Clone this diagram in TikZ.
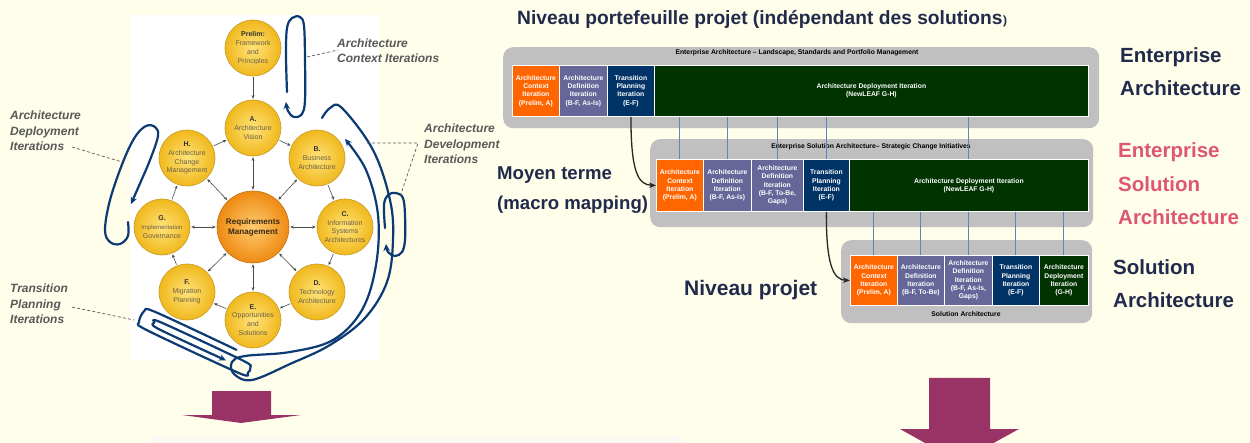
\documentclass[tikz,border=0pt]{standalone}
\usepackage{fontspec}
\setmainfont{Liberation Sans}
\usetikzlibrary{arrows.meta}
\definecolor{bg}{HTML}{FEFEEA}
\definecolor{strip}{HTML}{FBFBF4}
\definecolor{navyT}{HTML}{222A4C}
\definecolor{pinkT}{HTML}{DD5775}
\definecolor{panelgray}{HTML}{C0C0C0}
\definecolor{cOrange}{HTML}{FF6600}
\definecolor{cPurple}{HTML}{666699}
\definecolor{cNavy}{HTML}{003366}
\definecolor{cGreen}{HTML}{003300}
\definecolor{linkblue}{HTML}{5B84C4}
\definecolor{loopblue}{HTML}{0B3A75}
\definecolor{mag}{HTML}{993366}
\definecolor{lbl}{HTML}{595959}
\definecolor{circin}{HTML}{FFE37A}
\definecolor{circout}{HTML}{F0B81C}
\definecolor{circedge}{HTML}{C49A2A}
\definecolor{reqin}{HTML}{FFCB70}
\definecolor{reqout}{HTML}{EE8A12}
\definecolor{reqedge}{HTML}{BF7418}
\definecolor{circtext}{HTML}{6A6045}
\definecolor{circdark}{HTML}{333333}
\definecolor{reqtext}{HTML}{3A2A12}
\definecolor{arrowgray}{HTML}{4A4A4A}
\begin{document}
\begin{tikzpicture}[x=1pt,y=-1pt,
 circ/.style={circle, minimum size=56pt, inner sep=0pt, draw=circedge, line width=0.6pt,
   inner color=circin, outer color=circout, align=center,
   font=\fontsize{7}{8.8}\selectfont, text=circtext},
 reqc/.style={circ, minimum size=72pt, inner color=reqin, outer color=reqout, draw=reqedge,
   font=\bfseries\fontsize{8.1}{10}\selectfont, text=reqtext},
 cyc/.style={draw=arrowgray, line width=0.6pt, -{Stealth[length=3.5pt,width=3pt]}, shorten >=1pt, shorten <=1pt},
 bi/.style={draw=arrowgray, line width=0.6pt, {Stealth[length=3.5pt,width=3pt]}-{Stealth[length=3.5pt,width=3pt]}, shorten >=1pt, shorten <=1pt},
 loopline/.style={draw=loopblue, line width=2.2pt, line cap=round, line join=round, -{Stealth[length=7pt,width=6.5pt]}},
 leader/.style={draw=lbl, line width=0.7pt, dash pattern=on 3pt off 2.2pt},
 itlbl/.style={text=lbl, font=\bfseries\itshape\fontsize{12}{15.3}\selectfont, align=left, inner sep=0pt, anchor=west},
 panelbox/.style={fill=panelgray, rounded corners=10pt, inner sep=0pt, anchor=north west},
 pbox/.style={draw=white, line width=0.8pt, text=white, inner sep=0pt, anchor=north west, align=center,
   font=\bfseries\fontsize{6.8}{8.3}\selectfont},
 ptitle/.style={font=\bfseries\fontsize{6.8}{8}\selectfont, text=black, inner sep=0pt},
 link/.style={draw=linkblue, line width=0.9pt},
 blk/.style={draw=black!85, line width=1.3pt, -{Stealth[length=7pt,width=5.5pt]}},
 big/.style={font=\bfseries\fontsize{19.2}{30}\selectfont, text=navyT, inner sep=0pt, anchor=west, align=left},
 side/.style={font=\bfseries\fontsize{20.5}{33.5}\selectfont, inner sep=0pt, anchor=west, align=left},
]
\useasboundingbox (0,0) rectangle (1250,443);
\fill[bg] (0,0) rectangle (1250,443);
\fill[white] (130,15) rectangle (379,360);
\fill[strip] (151,436) rectangle (682,443);

% ---------- TOGAF circle ----------
\node[circ] (P) at (253,48) {\textcolor{circdark}{\bfseries Prelim:}\\Framework\\and\\Principles};
\node[circ] (A) at (253,128) {\textcolor{circdark}{\bfseries A.}\\Architecture\\Vision};
\node[circ] (B) at (317,158) {\textcolor{circdark}{\bfseries B.}\\Business\\Architecture};
\node[circ] (C) at (345,227) {\textcolor{circdark}{\bfseries C.}\\Information\\Systems\\Architectures};
\node[circ] (D) at (317,292) {\textcolor{circdark}{\bfseries D.}\\Technology\\Architecture};
\node[circ] (E) at (253,320) {\textcolor{circdark}{\bfseries E.}\\Opportunities\\and\\Solutions};
\node[circ] (F) at (187,292) {\textcolor{circdark}{\bfseries F.}\\Migration\\Planning};
\node[circ] (G) at (162,227) {\textcolor{circdark}{\bfseries G.}\\{\fontsize{6}{8.8}\selectfont Implementation}\\Governance};
\node[circ] (H) at (187,158) {\textcolor{circdark}{\bfseries H.}\\Architecture\\Change\\Management};
\node[reqc] (R) at (253,227) {Requirements\\Management};

\draw[cyc] (P) -- (A);
\draw[cyc] (A) -- (B);
\draw[cyc] (B) -- (C);
\draw[cyc] (C) -- (D);
\draw[cyc] (D) -- (E);
\draw[cyc] (E) -- (F);
\draw[cyc] (F) -- (G);
\draw[cyc] (G) -- (H);
\draw[cyc] (H) -- (A);
\foreach \n in {A,B,C,D,E,F,G,H} \draw[bi] (R) -- (\n);

% ---------- hand-drawn loops ----------
\draw[loopline] plot[smooth, tension=0.6] coordinates {(287,92) (286,55) (287,28) (292,18) (300,17) (304,26) (305,60) (305,100) (302,114) (294,117) (288,111) (286,102)};
\draw[loopline] plot[smooth, tension=0.6] coordinates {(128,222) (128,236) (120,244) (110,242) (105,230) (110,200) (123,162) (135,137) (146,126) (155,127) (158,136) (150,160) (138,188) (131,204)};
\draw[loopline] plot[smooth, tension=0.6] coordinates {(322,118) (330,108) (342,108) (373,150) (390,200) (393,240) (387,282) (365,318) (330,345) (290,364) (252,380) (234,374) (232,362) (245,356) (290,352) (333,340) (362,310) (376,265) (378,215) (366,170) (345,139)};
\draw[loopline] plot[smooth, tension=0.6] coordinates {(385,228) (384,205) (388,195) (396,193) (403,198) (405,215) (405,240) (402,252) (395,256) (388,252) (386,244)};
\begin{scope}[shift={(196,342)}, rotate=-25]
\draw[loopline] plot[smooth, tension=0.5] coordinates {(40,-10) (-50,-10) (-60,-6) (-60,6) (-50,10) (52,10) (60,6) (60,0) (50,-3) (-40,-3) (-46,0) (-40,4) (35,4)};
\end{scope}

% ---------- iteration labels ----------
\node[itlbl] (ctxL) at (337,50.5) {Architecture\\Context Iterations};
\node[itlbl] (depL) at (10,131) {Architecture\\Deployment\\Iterations};
\node[itlbl] (devL) at (424,144) {Architecture\\Development\\Iterations};
\node[itlbl] (traL) at (10,304) {Transition\\Planning\\Iterations};
\coordinate (ctxP) at (307,57);
\coordinate (ctxK) at (338,50);
\coordinate (depK) at (72,147);
\coordinate (depP) at (122,162);
\coordinate (devP1) at (367,143);
\coordinate (devP2) at (400,197);
\coordinate (devK) at (418,143);
\coordinate (traK) at (72,307);
\coordinate (traP) at (134,320);
\draw[leader] (ctxP) -- (ctxK);
\draw[leader] (depK) -- (depP);
\draw[leader] (devP1) -- (devK) -- (devP2);
\draw[leader] (traK) -- (traP);

% ---------- big texts ----------
\node[big] (title) at (517,19) {Niveau portefeuille projet (indépendant des solutions};
\node[font=\bfseries\fontsize{12}{14}\selectfont, text=navyT, inner sep=0pt, anchor=base west] (tparen) at (title.base east) {)};
\node[side, text=navyT] (eaL) at (1120,71.5) {Enterprise\\Architecture};
\node[side, text=pinkT] (esaL) at (1118,184) {Enterprise\\Solution\\Architecture};
\node[side, text=navyT] (saL) at (1113,283.5) {Solution\\Architecture};
\node[big, font=\bfseries\fontsize{18.6}{30}\selectfont] (moy) at (497,190) {Moyen terme\\(macro mapping)};
\node[big, font=\bfseries\fontsize{21}{25}\selectfont] (np) at (684,290) {Niveau projet};

% ---------- panels ----------
\node[panelbox, minimum width=596, minimum height=81] (EA) at (503,47) {};
\node[panelbox, minimum width=443, minimum height=88] (ESA) at (650,139) {};
\node[panelbox, minimum width=251, minimum height=83] (SA) at (841,240) {};
\node[ptitle] (EAt) at (797,53) {Enterprise Architecture -- Landscape, Standards and Portfolio Management};
\node[ptitle] (ESAt) at (871,147) {Enterprise Solution Architecture-- Strategic Change Initiatives};
\node[ptitle] (SAt) at (966,314) {Solution Architecture};

% panel 1
\node[pbox, fill=cOrange, minimum width=47, minimum height=51] (e1) at (512,65) {Architecture\\Context\\Iteration\\(Prelim, A)};
\node[pbox, fill=cPurple, minimum width=48, minimum height=51] (e2) at (559,65) {Architecture\\Definition\\Iteration\\(B-F, As-Is)};
\node[pbox, fill=cNavy, minimum width=47, minimum height=51] (e3) at (607,65) {Transition\\Planning\\Iteration\\(E-F)};
\node[pbox, fill=cGreen, minimum width=434, minimum height=51] (e4) at (654,65) {Architecture Deployment Iteration\\(NewLEAF G-H)};
% panel 2
\node[pbox, fill=cOrange, minimum width=47, minimum height=52] (s1) at (656,159) {Architecture\\Context\\Iteration\\(Prelim, A)};
\node[pbox, fill=cPurple, minimum width=48, minimum height=52] (s2) at (703,159) {Architecture\\Definition\\Iteration\\(B-F, As-Is)};
\node[pbox, fill=cPurple, minimum width=52, minimum height=52] (s3) at (751,159) {Architecture\\Definition\\Iteration\\(B-F, To-Be,\\Gaps)};
\node[pbox, fill=cNavy, minimum width=46, minimum height=52] (s4) at (803,159) {Transition\\Planning\\Iteration\\(E-F)};
\node[pbox, fill=cGreen, minimum width=239, minimum height=52] (s5) at (849,159) {Architecture Deployment Iteration\\(NewLEAF G-H)};
% panel 3
\node[pbox, fill=cOrange, minimum width=47, minimum height=50] (p1) at (850,255) {Architecture\\Context\\Iteration\\(Prelim, A)};
\node[pbox, fill=cPurple, minimum width=47, minimum height=50] (p2) at (897,255) {Architecture\\Definition\\Iteration\\(B-F, To-Be)};
\node[pbox, fill=cPurple, minimum width=48, minimum height=50] (p3) at (944,255) {Architecture\\Definition\\Iteration\\(B-F, As-Is,\\Gaps)};
\node[pbox, fill=cNavy, minimum width=47, minimum height=50] (p4) at (992,255) {Transition\\Planning\\Iteration\\(E-F)};
\node[pbox, fill=cGreen, minimum width=49, minimum height=50] (p5) at (1039,255) {Architecture\\Deployment\\Iteration\\(G-H)};

% links
\foreach \n in {s1,s2,s3,s4,s5} \draw[link] (\n.north) -- (\n.north |- e1.south);
\foreach \n in {p1,p2,p3,p4,p5} \draw[link] (\n.north) -- (\n.north |- s1.south);
\draw[blk] (e3.south) .. controls (631,172) and (638,185) .. (s1.west);
\draw[blk] (s4.south) .. controls (826,264) and (833,280) .. (p1.west);

% ---------- magenta arrows ----------
\fill[mag] (212,391) -- (271,391) -- (271,415) -- (301,415) -- (241,423) -- (182,415) -- (212,415) -- cycle;
\fill[mag] (929,378) -- (990,378) -- (990,429) -- (1019,429) -- (959,462) -- (900,429) -- (929,429) -- cycle;
\end{tikzpicture}
\end{document}
